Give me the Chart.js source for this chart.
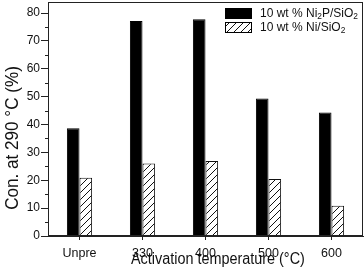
<!DOCTYPE html>
<html><head><meta charset="utf-8">
<script src="https://cdn.jsdelivr.net/npm/chart.js@4"></script>
<style>html,body{margin:0;padding:0;background:#fff}#wrap{width:364px;height:274px}</style>
</head><body><div id="wrap"><canvas id="c" width="364" height="274"></canvas></div>
<script>
const categories = ['Unpre', '330', '400', '500', '600'];
const ni2pValues = [38.7, 77.2, 77.8, 49.4, 44.3];
const niValues = [20.9, 26.0, 26.9, 20.5, 10.9];
const seriesNames = ['10 wt % Ni₂P/SiO₂', '10 wt % Ni/SiO₂'];
const yMajorTicks = [0, 10, 20, 30, 40, 50, 60, 70, 80];
const yMinorTicks = [5, 15, 25, 35, 45, 55, 65, 75];
const xTitle = 'Activation temperature (°C)';
const yTitle = 'Con. at 290 °C (%)';

const FONT = "'Liberation Sans', Arial, sans-serif";
const INK = '#111';

function makeHatch() {
  const s = 7;
  const c = document.createElement('canvas');
  c.width = s; c.height = s;
  const g = c.getContext('2d');
  g.fillStyle = '#fff'; g.fillRect(0, 0, s, s);
  g.strokeStyle = '#111'; g.lineWidth = 1;
  g.beginPath();
  g.moveTo(-1, s + 1); g.lineTo(s + 1, -1);
  g.moveTo(-1, 1); g.lineTo(1, -1);
  g.moveTo(s - 1, s + 1); g.lineTo(s + 1, s - 1);
  g.stroke();
  return document.getElementById('c').getContext('2d').createPattern(c, 'repeat');
}
const hatch = makeHatch();

function drawSubText(ctx, text, x, y, size) {
  const parts = text.split(/(₂)/);
  for (const p of parts) {
    if (!p) continue;
    if (p === '₂') {
      ctx.font = (size * 0.7) + 'px ' + FONT;
      ctx.fillText('2', x, y + size * 0.25);
      x += ctx.measureText('2').width;
    } else {
      ctx.font = size + 'px ' + FONT;
      ctx.fillText(p, x, y);
      x += ctx.measureText(p).width;
    }
  }
}

const decor = {
  id: 'decor',
  afterDraw(chart) {
    const ctx = chart.ctx;
    const a = chart.chartArea;
    const y = chart.scales.y;
    ctx.save();
    ctx.strokeStyle = '#222'; ctx.lineWidth = 1;
    ctx.strokeRect(Math.round(a.left) + 0.5, Math.round(a.top) + 0.5,
      Math.round(a.right - a.left) - 1, Math.round(a.bottom - a.top) - 1);
    ctx.beginPath();
    for (const v of yMinorTicks) {
      const py = Math.round(y.getPixelForValue(v)) + 0.5;
      ctx.moveTo(Math.round(a.left) - 3, py); ctx.lineTo(Math.round(a.left), py);
    }
    ctx.stroke();
    // legend
    const bx = 225, bw = 27, bh = 11;
    const rows = [{y: 8, fill: '#000'}, {y: 22, fill: hatch}];
    rows.forEach((r, i) => {
      ctx.fillStyle = r.fill;
      ctx.fillRect(bx, r.y, bw, bh);
      ctx.strokeStyle = '#000';
      ctx.strokeRect(bx + 0.5, r.y + 0.5, bw - 1, bh - 1);
      ctx.fillStyle = INK;
      ctx.textBaseline = 'middle';
      ctx.textAlign = 'left';
      drawSubText(ctx, seriesNames[i], 260, r.y + bh / 2 + 0.5, 12);
    });
    // axis titles
    ctx.fillStyle = INK;
    ctx.textBaseline = 'alphabetic';
    ctx.textAlign = 'left';
    ctx.save();
    ctx.translate(131, 264);
    ctx.scale(0.9, 1);
    ctx.font = '16px ' + FONT;
    ctx.fillText(xTitle, 0, 0);
    ctx.restore();
    ctx.save();
    ctx.translate(17.5, 138);
    ctx.rotate(-Math.PI / 2);
    ctx.scale(0.9, 1);
    ctx.font = '19px ' + FONT;
    ctx.textAlign = 'center';
    ctx.fillText(yTitle, 0, 0);
    ctx.restore();
    ctx.restore();
  }
};

new Chart(document.getElementById('c'), {
  type: 'bar',
  data: {
    labels: categories,
    datasets: [
      {label: seriesNames[0], data: ni2pValues, backgroundColor: '#000', borderColor: '#000', borderWidth: 1,
        categoryPercentage: 0.4, barPercentage: 1.0},
      {label: seriesNames[1], data: niValues, backgroundColor: hatch, borderColor: '#111', borderWidth: 1,
        categoryPercentage: 0.4, barPercentage: 1.0}
    ]
  },
  options: {
    responsive: false,
    animation: false,
    devicePixelRatio: 1,
    layout: {padding: {top: 2, right: 1, left: 0, bottom: 0}},
    plugins: {legend: {display: false}, tooltip: {enabled: false}},
    scales: {
      x: {
        offset: true,
        grid: {display: true, offset: false, drawOnChartArea: false, drawTicks: true, tickLength: 4, color: '#222', tickColor: '#222'},
        border: {display: true, color: '#222'},
        ticks: {color: INK, font: {family: FONT, size: 12.5}, padding: 6, maxRotation: 0, autoSkip: false},
        title: {display: false, text: xTitle},
        afterFit(s) { s.height = 38; s.paddingLeft = 0; s.paddingRight = 0; }
      },
      y: {
        min: 0, max: 84,
        afterBuildTicks(s) { s.ticks = yMajorTicks.map(v => ({value: v})); },
        grid: {display: true, drawOnChartArea: false, drawTicks: true, tickLength: 7, color: '#222', tickColor: '#222'},
        border: {display: true, color: '#222'},
        ticks: {color: INK, font: {family: FONT, size: 12}, padding: 1},
        title: {display: false, text: yTitle},
        afterFit(s) { s.width = 48; s.paddingTop = 0; s.paddingBottom = 0; }
      }
    }
  },
  plugins: [decor]
});
</script>
</body></html>
